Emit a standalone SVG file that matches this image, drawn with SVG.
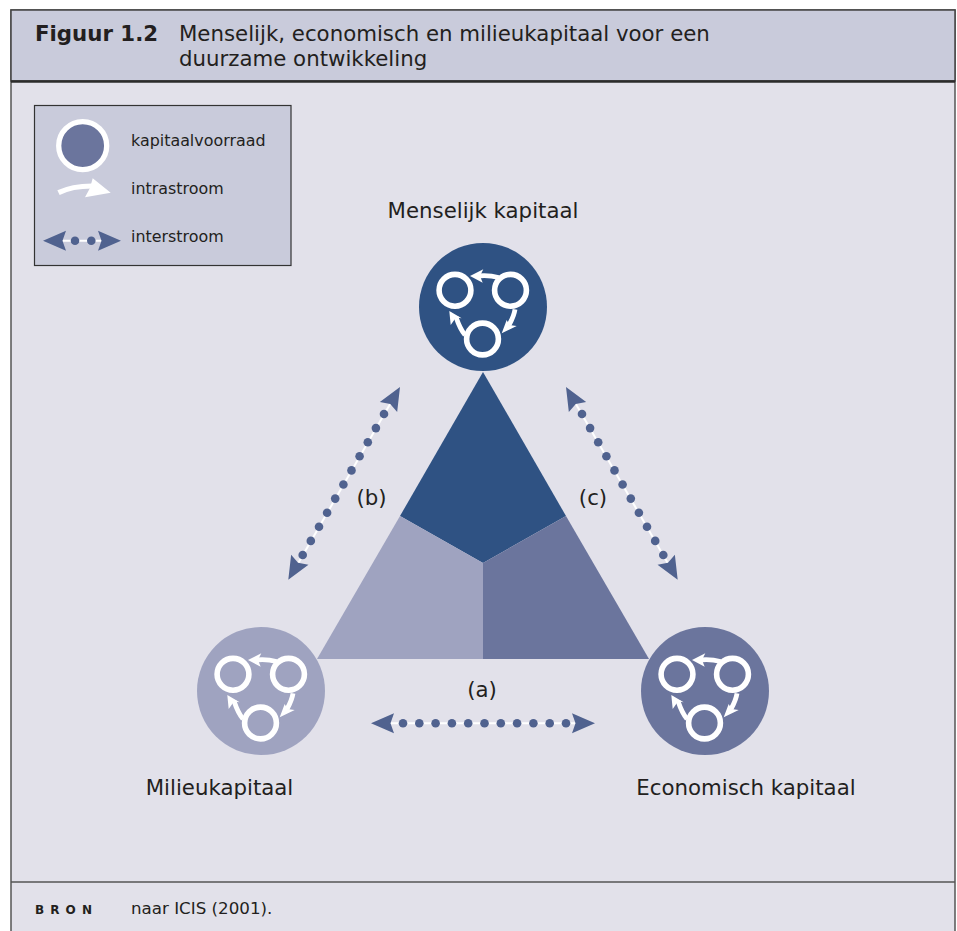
<svg xmlns="http://www.w3.org/2000/svg" width="957" height="931" viewBox="0 0 957 931">
<style>
text{font-family:"DejaVu Sans",Verdana,sans-serif;fill:#231f20}
.t{font-size:21.300px}.l{font-size:15.900px}.n{font-size:21.300px}
.dot{fill:#50628f}.line{stroke:#fff;stroke-width:2;fill:none}.head{fill:#50628f}
.ring{fill:none;stroke:#fff;stroke-width:5.600}.arc{fill:none;stroke:#fff;stroke-width:4.800}.ah{fill:#fff}
</style>
<defs>
<path id="h" class="head" d="M0 0L23 -10L19.500 0L23 10Z"/>
<g id="triad">
<circle class="ring" cx="-28" cy="-16.700" r="15.900"/><circle class="ring" cx="27.500" cy="-16.700" r="15.900"/><circle class="ring" cx="-0.500" cy="32" r="15.900"/>
<path class="arc" d="M15.500 -29.500Q6 -32 -5 -31"/><path class="ah" d="M-13 -31L0.300 -37.700L-3 -31L-0.300 -24.300Z"/>
<path class="arc" d="M32 2.300Q31 9 26 18"/><path class="ah" d="M18.700 26.300L33.700 19L26.300 18L23.700 13Z"/>
<path class="arc" d="M-18 28Q-23 22 -27 10"/><path class="ah" d="M-33.700 4L-32.300 18L-27 10.500L-21.300 11.300Z"/>
</g>
</defs>
<rect x="0" y="0" width="957" height="931" fill="#fff"/>
<rect x="11" y="10" width="944" height="925" fill="#e2e1ea" stroke="#555" stroke-width="1.500"/>
<rect x="11" y="10" width="944" height="71" fill="#c9cbdb" stroke="#444" stroke-width="1.500"/>
<path d="M11 81.500H955" stroke="#2b2b2b" stroke-width="2.500"/>
<path d="M11 882H955" stroke="#555" stroke-width="1.500"/>
<g id="title"><text class="t" x="35" y="41" font-weight="bold">Figuur 1.2</text><text class="t" x="179" y="41">Menselijk, economisch en milieukapitaal voor een</text><text class="t" x="179" y="66">duurzame ontwikkeling</text></g>
<g id="source"><text x="35" y="914" font-size="12" font-weight="bold" letter-spacing="6.100">BRON</text><text x="131" y="914" font-size="16.700">naar ICIS (2001).</text></g>
<g id="legend">
<rect x="34.500" y="105.500" width="256.500" height="160" fill="#c9cbdb" stroke="#333" stroke-width="1.200"/>
<circle cx="82.700" cy="145.700" r="24" fill="#6b759d" stroke="#fff" stroke-width="5.300"/>
<path d="M58.500 192.700Q72 186 92 186" fill="none" stroke="#fff" stroke-width="5.200"/><path class="ah" d="M110.700 192.700L92.700 178.300L90 188L85 197.300Z"/>
<path class="line" d="M55 240.700H108"/><use href="#h" transform="translate(43 240.700)"/><use href="#h" transform="translate(121 240.700) rotate(180)"/>
<circle class="dot" cx="75" cy="240.700" r="4.300"/><circle class="dot" cx="91.300" cy="240.700" r="4.300"/>
<text class="l" x="131" y="146">kapitaalvoorraad</text><text class="l" x="131" y="194">intrastroom</text><text class="l" x="131" y="242">interstroom</text>
</g>
<g id="triangle">
<path d="M483 372L566 516L483 563L400 516Z" fill="#2f5283"/>
<path d="M400 516L483 563V659H317Z" fill="#9fa3c0"/>
<path d="M566 516L483 563V659H649Z" fill="#6b759d"/>
</g>
<g id="node-menselijk"><circle cx="483" cy="307" r="64" fill="#2f5283"/><use href="#triad" x="483" y="307"/><text class="n" x="483" y="218" text-anchor="middle">Menselijk kapitaal</text></g>
<g id="node-milieu"><circle cx="261" cy="691" r="64" fill="#9fa3c0"/><use href="#triad" x="261" y="691"/><text class="n" x="219.500" y="795" text-anchor="middle">Milieukapitaal</text></g>
<g id="node-economisch"><circle cx="705" cy="691" r="64" fill="#6b759d"/><use href="#triad" x="705" y="691"/><text class="n" x="746" y="795" text-anchor="middle">Economisch kapitaal</text></g>
<g id="connectors">
<g id="conn-a"><path class="line" d="M385 723.300H581"/><use href="#h" transform="translate(371 723.300)"/><use href="#h" transform="translate(595 723.300) rotate(180)"/>
<g class="dot"><circle cx="403" cy="723.300" r="4.300"/><circle cx="419.300" cy="723.300" r="4.300"/><circle cx="435.600" cy="723.300" r="4.300"/><circle cx="451.900" cy="723.300" r="4.300"/><circle cx="468.200" cy="723.300" r="4.300"/><circle cx="484.500" cy="723.300" r="4.300"/><circle cx="500.800" cy="723.300" r="4.300"/><circle cx="517.100" cy="723.300" r="4.300"/><circle cx="533.400" cy="723.300" r="4.300"/><circle cx="549.700" cy="723.300" r="4.300"/><circle cx="566" cy="723.300" r="4.300"/></g>
<text class="n" x="482" y="697" text-anchor="middle">(a)</text></g>
<g id="conn-b"><path class="line" d="M296 567L393 399"/><use href="#h" transform="translate(288.300 579.700) rotate(-60)"/><use href="#h" transform="translate(400 387) rotate(120)"/>
<g class="dot"><circle cx="302.700" cy="555" r="4.300"/><circle cx="310.800" cy="540.900" r="4.300"/><circle cx="319" cy="526.800" r="4.300"/><circle cx="327.100" cy="512.700" r="4.300"/><circle cx="335.200" cy="498.600" r="4.300"/><circle cx="343.400" cy="484.500" r="4.300"/><circle cx="351.500" cy="470.400" r="4.300"/><circle cx="359.600" cy="456.300" r="4.300"/><circle cx="367.800" cy="442.200" r="4.300"/><circle cx="375.900" cy="428.100" r="4.300"/><circle cx="384" cy="414" r="4.300"/></g>
<text class="n" x="371.500" y="505" text-anchor="middle">(b)</text></g>
<g id="conn-c"><path class="line" d="M670 567L573 399"/><use href="#h" transform="translate(677.700 579.700) rotate(-120)"/><use href="#h" transform="translate(566 387) rotate(60)"/>
<g class="dot"><circle cx="663.300" cy="555" r="4.300"/><circle cx="655.200" cy="540.900" r="4.300"/><circle cx="647" cy="526.800" r="4.300"/><circle cx="638.900" cy="512.700" r="4.300"/><circle cx="630.800" cy="498.600" r="4.300"/><circle cx="622.600" cy="484.500" r="4.300"/><circle cx="614.500" cy="470.400" r="4.300"/><circle cx="606.400" cy="456.300" r="4.300"/><circle cx="598.200" cy="442.200" r="4.300"/><circle cx="590.100" cy="428.100" r="4.300"/><circle cx="582" cy="414" r="4.300"/></g>
<text class="n" x="593" y="505" text-anchor="middle">(c)</text></g>
</g>
</svg>
